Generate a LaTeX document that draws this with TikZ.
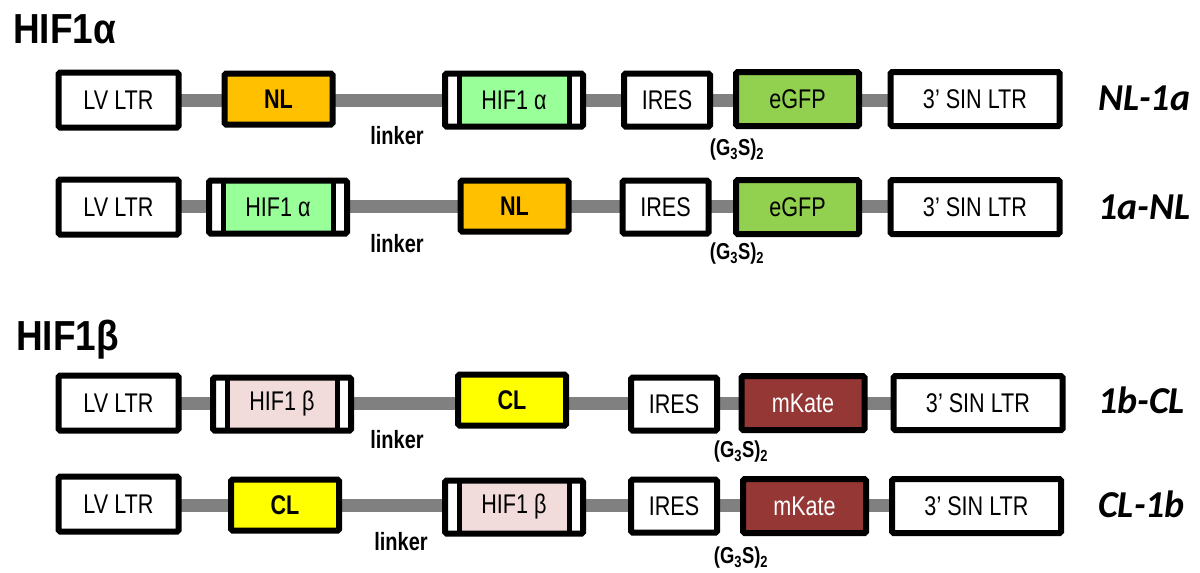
\documentclass[tikz,border=0pt]{standalone}
\usepackage{fontspec}
\setmainfont{Liberation Sans}[FakeStretch=0.8]
\newfontfamily\ttlfont{Liberation Sans}[FakeStretch=0.88]
\newfontfamily\labfont{Carlito}
\usetikzlibrary{backgrounds}
\definecolor{nlor}{HTML}{FFC000}
\definecolor{clyel}{HTML}{FFFF00}
\definecolor{hifa}{HTML}{99FF99}
\definecolor{hifb}{HTML}{F2DCDB}
\definecolor{gfpc}{HTML}{92D050}
\definecolor{mkc}{HTML}{953735}
\definecolor{bargray}{HTML}{808080}
\tikzset{
 box/.style={draw=black, line width=6pt, rounded corners=1.5pt, inner sep=0pt, text=black, font=\fontsize{27}{32}\selectfont},
 lvbox/.style={box, fill=white, minimum width=120pt, minimum height=55pt},
 nlbox/.style={box, fill=nlor, minimum width=108pt, minimum height=51pt, font=\fontsize{27}{32}\selectfont\bfseries},
 clbox/.style={nlbox, fill=clyel},
 hifbox/.style={box, fill=white, minimum width=138pt, minimum height=53pt,
   path picture={
     \path (path picture bounding box.south west) coordinate (pp1)
           (path picture bounding box.north east) coordinate (pp2);
     \fill[#1, sharp corners] ([xshift=14pt]pp1) rectangle ([xshift=-14pt]pp2);
     \draw[black, line width=5pt, sharp corners] ([xshift=14pt]pp1) -- ([xshift=14pt]pp1 |- pp2);
     \draw[black, line width=5pt, sharp corners] ([xshift=-14pt]pp2) -- ([xshift=-14pt]pp2 |- pp1);
   }},
 iresbox/.style={box, fill=white, minimum width=86pt, minimum height=53pt},
 fpbox/.style={box, fill=#1, minimum width=123pt, minimum height=54pt},
 sinbox/.style={box, fill=white, minimum width=169pt, minimum height=54pt},
 bar/.style={draw=bargray, line width=13pt},
 linklab/.style={font=\fontsize{25}{30}\selectfont\bfseries, inner sep=0pt},
 gslab/.style={font=\fontsize{23}{28}\selectfont\bfseries, inner sep=0pt},
 ttl/.style={font=\ttlfont\fontsize{42}{50}\selectfont\bfseries, anchor=base west, inner sep=0pt},
 rowlab/.style={font=\labfont\fontsize{38}{44}\selectfont\bfseries\itshape, anchor=base west, inner sep=0pt},
}
\begin{document}
\begin{tikzpicture}[x=1pt,y=-1pt]
\useasboundingbox (0,0) rectangle (1200,573);

\node[ttl] (t1) at (13,43) {HIF1α};
\node[ttl] (t2) at (16,350) {HIF1β};

% Row 1: NL-1a
\node[lvbox] (a1) at (118.5,100) {LV LTR};
\node[nlbox] (a2) at (278.5,99) {NL};
\node[hifbox=hifa] (a3) at (514,100) {HIF1 α};
\node[iresbox] (a4) at (667,100) {IRES};
\node[fpbox=gfpc] (a5) at (797.5,99) {eGFP};
\node[sinbox] (a6) at (975,99) {3’ SIN LTR};
\node[rowlab] (la) at (1098,110) {NL-1a};
\node[linklab] (ka) at (397,136) {linker};
\node[gslab] (ga) at (737,150) {(G\textsubscript{3}S)\textsubscript{2}};

% Row 2: 1a-NL
\node[lvbox] (b1) at (118.5,207) {LV LTR};
\node[hifbox=hifa] (b2) at (278,207) {HIF1 α};
\node[nlbox] (b3) at (514.5,206) {NL};
\node[iresbox] (b4) at (665.5,207) {IRES};
\node[fpbox=gfpc] (b5) at (797.5,207) {eGFP};
\node[sinbox] (b6) at (975,207) {3’ SIN LTR};
\node[rowlab] (lb) at (1098,219) {1a-NL};
\node[linklab] (kb) at (397,244) {linker};
\node[gslab] (gb) at (737,254) {(G\textsubscript{3}S)\textsubscript{2}};

% Row 3: 1b-CL
\node[lvbox] (c1) at (118.5,403) {LV LTR};
\node[hifbox=hifb] (c2) at (282,404) {HIF1 β};
\node[clbox] (c3) at (512,400) {CL};
\node[iresbox] (c4) at (674,404) {IRES};
\node[fpbox=mkc, text=white] (c5) at (803,403) {mKate};
\node[sinbox] (c6) at (978,403) {3’ SIN LTR};
\node[rowlab] (lc) at (1098,413) {1b-CL};
\node[linklab] (kc) at (397,440) {linker};
\node[gslab] (gc) at (741,452) {(G\textsubscript{3}S)\textsubscript{2}};

% Row 4: CL-1b
\node[lvbox] (d1) at (118.5,504) {LV LTR};
\node[clbox] (d2) at (285,505) {CL};
\node[hifbox=hifb] (d3) at (514,507) {HIF1 β};
\node[iresbox] (d4) at (674,506) {IRES};
\node[fpbox=mkc, text=white] (d5) at (804.5,506) {mKate};
\node[sinbox] (d6) at (976.5,506) {3’ SIN LTR};
\node[rowlab] (ld) at (1098,517) {CL-1b};
\node[linklab] (kd) at (401,542) {linker};
\node[gslab] (gd) at (741,558) {(G\textsubscript{3}S)\textsubscript{2}};

\begin{scope}[on background layer]
\foreach \r/\y in {a/100,b/206,c/403,d/505}{
  \draw[bar] (\r1.center |- 0,\y) -- (\r6.center |- 0,\y);
}
\end{scope}
\end{tikzpicture}
\end{document}
